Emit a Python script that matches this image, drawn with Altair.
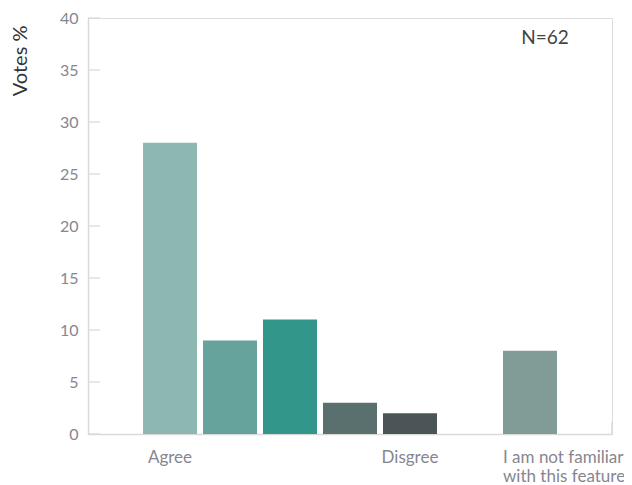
import altair as alt
import pandas as pd

slots = ["1", "2", "3", "4", "5", "6", "7"]
values = [28, 9, 11, 3, 2, None, 8]
colors = ["#8db8b2", "#65a39c", "#32978a", "#5a706e", "#4b5557", "#ffffff", "#819c97"]
center_labels = [("1", "Agree"), ("5", "Disgree")]
left_labels = [("7", ["I am not familiar", "with this feature"])]
y_ticks = [0, 5, 10, 15, 20, 25, 30, 35, 40]
note = "N=62"

FONT = "Lato"
GRAY = "#868690"

df = pd.DataFrame({"slot": slots, "value": values, "color": colors}).dropna()
xscale = alt.Scale(domain=slots, paddingInner=0.1, paddingOuter=0.917)
yscale = alt.Scale(domain=[0, 40], nice=False)

bars = alt.Chart(df).mark_bar().encode(
    x=alt.X("slot:N", scale=xscale, axis=alt.Axis(labels=False, ticks=False, title=None,
                                                  domainColor="#d9d9d9", domainWidth=1.5)),
    y=alt.Y("value:Q", scale=yscale,
            axis=alt.Axis(values=y_ticks, ticks=False, grid=False, title="Votes %",
                          titleFont=FONT, titleFontSize=20, titleFontWeight="normal",
                          titleColor="#333333", titleAnchor="end", titleY=7, titleX=-58,
                          titleAlign="right", titleBaseline="bottom", titleAngle=270,
                          labelFont=FONT, labelFontSize=16, labelColor=GRAY, labelPadding=10,
                          domainColor="#d9d9d9", domainWidth=1.5)),
    color=alt.Color("color:N", scale=None),
)

tick_df = pd.DataFrame({"v": y_ticks})
ticks = alt.Chart(tick_df).mark_rule(color="#d9d9d9", strokeWidth=1.2).encode(
    y=alt.Y("v:Q", scale=yscale),
    x=alt.value(0), x2=alt.value(12),
)

end_tick = alt.Chart(pd.DataFrame({"v": [0]})).mark_rule(color="#d9d9d9", strokeWidth=1.5).encode(
    x=alt.value(524), y=alt.Y("v:Q", scale=yscale), y2=alt.value(404),
)

cl = pd.DataFrame({"slot": [c[0] for c in center_labels], "text": [c[1] for c in center_labels]})
ctext = alt.Chart(cl).mark_text(font=FONT, fontSize=17, color=GRAY, baseline="top",
                                 align="center").encode(
    x=alt.X("slot:N", scale=xscale), y=alt.value(432), text="text:N")

ll = pd.DataFrame({"slot": [c[0] for c in left_labels], "text": [c[1] for c in left_labels]})
ltext = alt.Chart(ll).mark_text(font=FONT, fontSize=17, color=GRAY, baseline="top",
                                 align="left", lineHeight=19).encode(
    x=alt.X("slot:N", scale=xscale, bandPosition=0), y=alt.value(432), text="text:N")

ntext = alt.Chart(pd.DataFrame({"t": [note]})).mark_text(
    font=FONT, fontSize=19, color="#444444", align="center", baseline="middle").encode(
    x=alt.value(457), y=alt.value(20), text="t:N")

chart = alt.layer(bars, ticks, end_tick, ctext, ltext, ntext).properties(
    width=524, height=416,
    autosize=alt.AutoSizeParams(type="none"),
    padding={"left": 80, "top": 10, "right": 12, "bottom": 51},
).configure_view(stroke=None).configure(background="white")

chart.save("out.html", embed_options={"renderer": "svg", "actions": False})
